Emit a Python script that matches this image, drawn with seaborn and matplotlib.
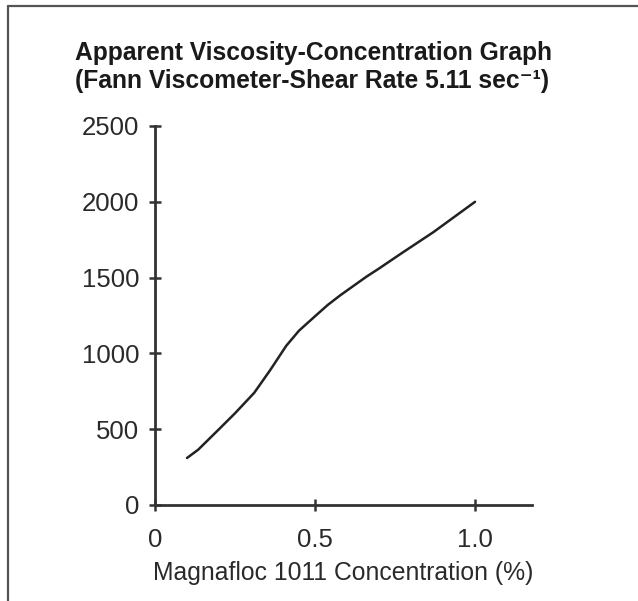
import pandas as pd
import matplotlib
matplotlib.use("Agg")
import matplotlib.pyplot as plt
from matplotlib.lines import Line2D
import seaborn as sns

sns.set_style("white")
plt.rcParams["font.family"] = ["Liberation Sans", "DejaVu Sans"]

# ------------------------------------------
# DATA
# ------------------------------------------
conc = [0.10, 0.135, 0.20, 0.25, 0.31, 0.36, 0.41, 0.45, 0.50, 0.54, 0.58, 0.62, 0.66,
        0.70, 0.77, 0.87, 1.00]
visc = [310, 365, 500, 605, 740, 890, 1050, 1150, 1245, 1320, 1385, 1445, 1505,
        1560, 1660, 1800, 2000]
x_ticks = [0, 0.5, 1.0]
x_labels = ["0", "0.5", "1.0"]
y_ticks = [0, 500, 1000, 1500, 2000, 2500]

df = pd.DataFrame({"conc": conc, "visc": visc})

fig = plt.figure(figsize=(6.38, 6.01), dpi=100)
ax = fig.add_axes([155 / 638, 96 / 601, 377 / 638, 379 / 601])

sns.lineplot(data=df, x="conc", y="visc", ax=ax, color="#222222", linewidth=1.8)

ax.set_xlim(0, 1.178)
ax.set_ylim(0, 2500)
ax.set_xticks(x_ticks)
ax.set_xticklabels(x_labels)
ax.set_yticks(y_ticks)

for side in ["top", "right"]:
    ax.spines[side].set_visible(False)
for side in ["left", "bottom"]:
    ax.spines[side].set_linewidth(2.0)
    ax.spines[side].set_color("#333333")

ax.tick_params(axis="both", direction="inout", length=8.5, width=1.8,
               bottom=True, left=True,
               color="#333333", labelsize=18.5, labelcolor="#2a2a2a")
ax.tick_params(axis="y", pad=7)
ax.tick_params(axis="x", pad=12.5)

ax.set_xlabel("Magnafloc 1011 Concentration (%)", fontsize=17.8, color="#2a2a2a", labelpad=6)
ax.set_ylabel("")

fig.text(75 / 638, 1 - 41 / 601,
         "Apparent Viscosity-Concentration Graph\n(Fann Viscometer-Shear Rate 5.11 sec\u207b\u00b9)",
         fontsize=17.7, fontweight="bold", color="#1a1a1a", ha="left", va="top",
         linespacing=1.2)

# frame lines (top and left)
fig.add_artist(Line2D([8 / 638, 1], [1 - 6 / 601, 1 - 6 / 601], transform=fig.transFigure,
                      color="#555555", linewidth=1.6))
fig.add_artist(Line2D([8 / 638, 8 / 638], [0, 1 - 6 / 601], transform=fig.transFigure,
                      color="#555555", linewidth=1.6))

fig.savefig("out.png", dpi=100)
